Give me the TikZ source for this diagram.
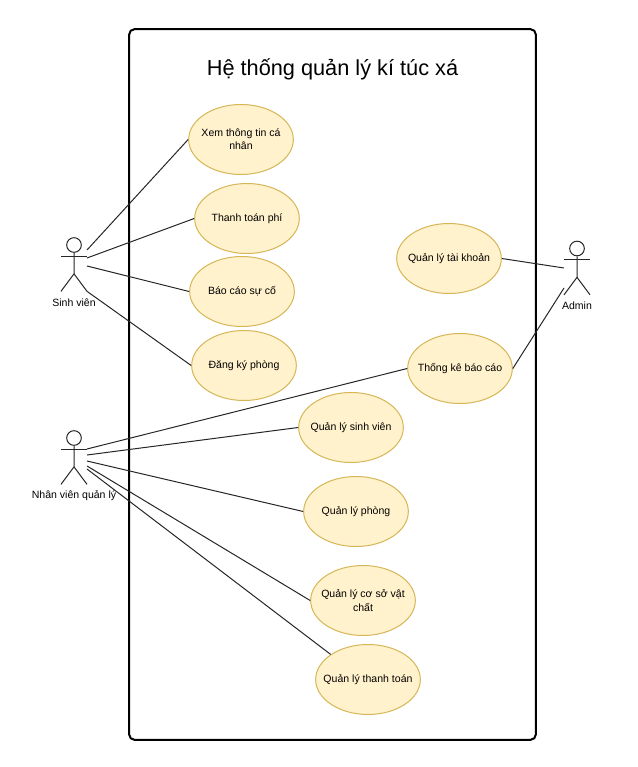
\documentclass[tikz,border=0pt]{standalone}
\usepackage{fontspec}
\setmainfont{Liberation Sans}
\usepackage{tikz}
\usetikzlibrary{shapes.geometric,calc}
\tikzset{
	usecase/.style={ellipse,draw=usecaseline,fill=usecasefill,line width=0.75pt,minimum width=78.5pt,minimum height=52.5pt,inner xsep=-14pt,inner ysep=0pt,align=center,font=\fontsize{7.9}{10}\selectfont},
	head/.style={circle,draw=black!85,line width=0.75pt,minimum size=11pt,inner sep=0pt},
	limb/.style={draw=black!85,line width=0.75pt},
	actorname/.style={inner sep=0pt,font=\fontsize{7.9}{10}\selectfont},
	link/.style={draw=black!85,line width=0.75pt}
}
\definecolor{usecasefill}{HTML}{FFF2CC}
\definecolor{usecaseline}{HTML}{D6B656}
% stick figure: name, x, y of the head, label
\newcommand{\actor}[4]{
	\node[head] (#1) at (#2,#3) {};
	\draw[limb] (#1.south) -- ++(0,21) coordinate (#1hip) -- ++(-13,17.5) coordinate (#1footl);
	\draw[limb] (#1hip) -- ++(13,17.5) coordinate (#1footr);
	\draw[limb] ($(#1)+(-13,11)$) -- ($(#1)+(13,11)$);
	\node[actorname] (#1name) at ($(#1)+(0,57.5)$) {#4};
}
\begin{document}
\begin{tikzpicture}[x=0.75pt,y=-0.75pt]
	\useasboundingbox (0,0) rectangle (638,767);
	\node[draw=black,line width=1.5pt,rounded corners=4pt,minimum width=305pt,minimum height=533pt,inner sep=0pt] (frame) at (332.5,384.5) {};
	\node[inner sep=0pt,font=\fontsize{16.3}{20}\selectfont] (title) at (332.5,69) {Hệ thống quản lý kí túc xá};

	\actor{sv}{74}{245}{Sinh viên}
	\actor{nv}{74}{438}{Nhân viên quản lý}
	\actor{ad}{577}{248.5}{Admin}

	\node[usecase] (xem) at (241,139.5) {Xem thông tin cá\\nhân};
	\node[usecase] (phi) at (247,218.5) {Thanh toán phí};
	\node[usecase] (suco) at (242,291.5) {Báo cáo sự cố};
	\node[usecase] (dky) at (244,365.5) {Đăng ký phòng};
	\node[usecase] (tk) at (449,258.5) {Quản lý tài khoản};
	\node[usecase] (bc) at (460,368.5) {Thống kê báo cáo};
	\node[usecase] (qlsv) at (351,427.5) {Quản lý sinh viên};
	\node[usecase] (qlp) at (356,511.5) {Quản lý phòng};
	\node[usecase] (csvc) at (363,600.5) {Quản lý cơ sở vật\\chất};
	\node[usecase] (qltt) at (368,679.5) {Quản lý thanh toán};

	% free ends beside the figures
	\coordinate (sva) at (87,250);
	\coordinate (svb) at (87,258);
	\coordinate (svc) at (87,266);
	\coordinate (nva) at (87,455);
	\coordinate (nvb) at (87,461);
	\coordinate (nvc) at (87,466);
	\coordinate (nvd) at (87,469);
	\coordinate (ada) at (564,268);
	\coordinate (adb) at (564,288);
	\coordinate (nvarm) at (87,449);

	\draw[link] (sva) edge (xem.west)
				(svb) edge (phi.west)
				(svc) edge (suco.west)
				(svfootr) edge (dky.west)
				(nvarm) edge (bc.west)
				(nva) edge (qlsv.west)
				(nvb) edge (qlp.west)
				(nvc) edge (csvc.west)
				(nvd) edge (qltt.north west)
				(tk.east) edge (ada)
				(bc.east) edge (adb);
\end{tikzpicture}
\end{document}
